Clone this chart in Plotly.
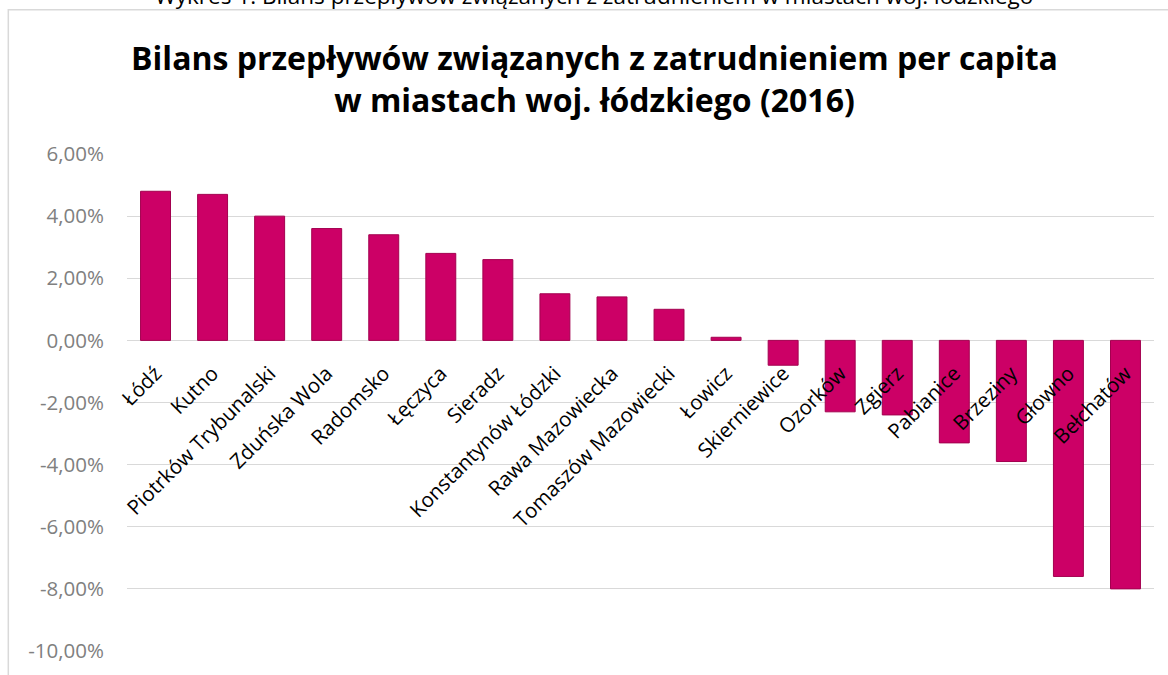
import plotly.graph_objects as go

cities = ["Łódź", "Kutno", "Piotrków Trybunalski", "Zduńska Wola", "Radomsko", "Łęczyca",
          "Sieradz", "Konstantynów Łódzki", "Rawa Mazowiecka", "Tomaszów Mazowiecki", "Łowicz",
          "Skierniewice", "Ozorków", "Zgierz", "Pabianice", "Brzeziny", "Głowno", "Bełchatów"]
balance = [0.048, 0.047, 0.040, 0.036, 0.034, 0.028, 0.026, 0.015, 0.014, 0.010, 0.001,
           -0.008, -0.023, -0.024, -0.033, -0.039, -0.076, -0.080]
y_ticks = [0.06, 0.04, 0.02, 0.0, -0.02, -0.04, -0.06, -0.08, -0.10]
y_ticktext = [("%.2f%%" % (v * 100)).replace(".", ",").replace("-0,00", "0,00") for v in y_ticks]

title_text = "Bilans przepływów związanych z zatrudnieniem per capita<br>w miastach woj. łódzkiego (2016)"
caption_text = "Wykres 1. Bilans przepływów związanych z zatrudnieniem w miastach woj. łódzkiego"

W, H = 1168, 675
L, R = 126.5, 13.5
T, B = 154, 23.5
pw, ph = W - L - R, H - T - B

def px_x(p):
    return (p - L) / pw

def px_y(p):
    return (H - B - p) / ph

ymin, ymax = -0.10, 0.06

fig = go.Figure()
fig.add_trace(go.Bar(
    x=cities, y=balance,
    marker=dict(color="#CC0066", line=dict(color="#A3004F", width=1)),
    hoverinfo="x+y",
))

fig.update_layout(
    width=W, height=H,
    margin=dict(l=L, r=R, t=T, b=B, pad=0),
    paper_bgcolor="white", plot_bgcolor="white",
    bargap=0.475,
    showlegend=False,
    font=dict(family="Open Sans", size=20, color="#000000"),
    title=dict(
        text=title_text,
        font=dict(family="Open Sans", size=32, color="#000000", weight="bold"),
        x=594.5 / W, xanchor="center", xref="container",
        y=1 - 70 / H, yanchor="middle", yref="container",
    ),
    xaxis=dict(
        type="category",
        anchor="free", position=(0 - ymin) / (ymax - ymin),
        showgrid=False, showline=False, zeroline=False,
        ticks="outside", ticklen=12, tickcolor="rgba(0,0,0,0)",
        tickangle=-45, ticklabelshift=0,
        tickfont=dict(family="Open Sans", size=20.5, color="#000000"),
        fixedrange=True,
    ),
    yaxis=dict(
        range=[ymin, ymax],
        tickvals=y_ticks, ticktext=y_ticktext,
        showgrid=True, gridcolor="#D9D9D9", gridwidth=1.3,
        zeroline=True, zerolinecolor="#D9D9D9", zerolinewidth=1.3,
        showline=False,
        ticks="outside", ticklen=18, tickcolor="rgba(0,0,0,0)",
        tickfont=dict(family="Open Sans", size=20.5, color="#808080"),
        fixedrange=True,
    ),
)

# chart container border (left and top edges visible)
fig.add_shape(type="rect", xref="paper", yref="paper",
              x0=px_x(7.7), x1=px_x(W + 20), y0=px_y(H + 20), y1=px_y(9.7),
              line=dict(color="#D9D9D9", width=1.5), fillcolor="rgba(0,0,0,0)", layer="below")

# caption above chart (cropped at the top in the original)
fig.add_annotation(text=caption_text, xref="paper", yref="paper",
                   x=px_x(594), y=px_y(12.6), xanchor="center", yanchor="bottom",
                   showarrow=False,
                   font=dict(family="Open Sans", size=22.5, color="#000000"))

fig.write_html("out.html", config={"displayModeBar": False},
               post_script="document.body.style.margin='0';document.body.style.overflow='hidden';")
